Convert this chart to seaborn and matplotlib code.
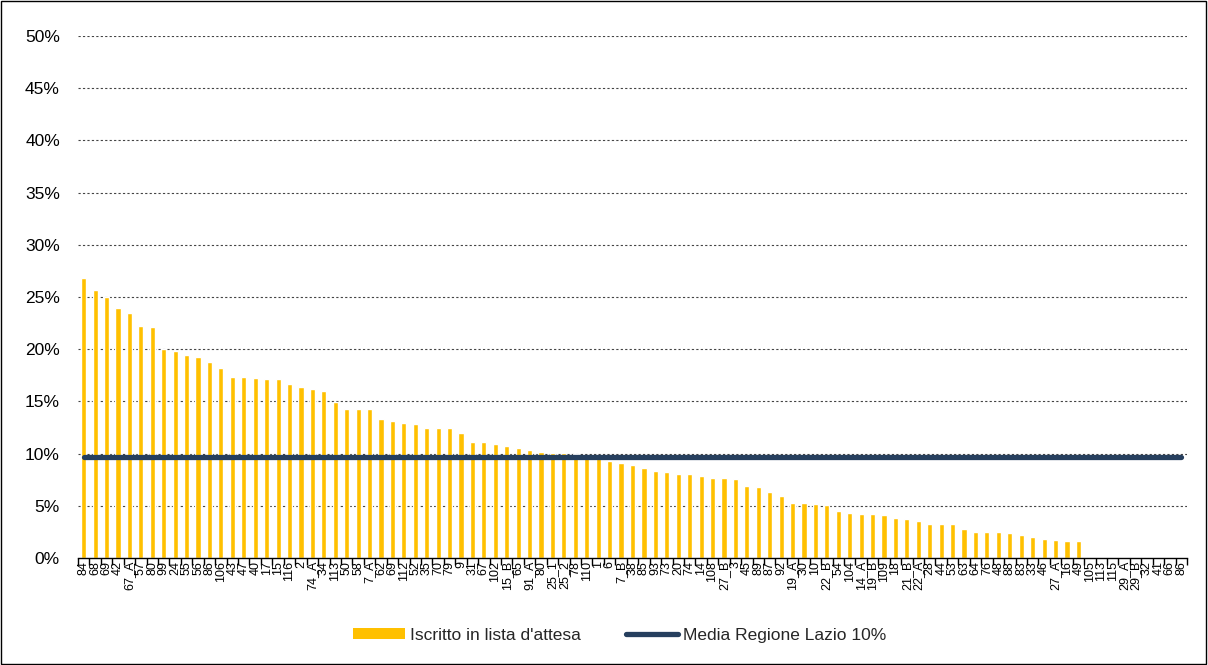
import matplotlib
matplotlib.use("Agg")
import matplotlib.pyplot as plt
import matplotlib.ticker as mticker
from matplotlib.patches import Patch, Rectangle
from matplotlib.lines import Line2D
import seaborn as sns
import pandas as pd
import numpy as np

# ---------------- data ----------------
labels = ["84", "68", "69", "42", "67_A", "57", "80", "99", "24", "55",
          "56", "86", "106", "43", "47", "40", "17", "15", "116", "2",
          "74_A", "34", "113", "50", "58", "7_A", "62", "69", "112", "52",
          "35", "70", "79", "9", "31", "67", "102", "15_B", "65", "91_A",
          "80", "25_1", "25_2", "78", "110", "1", "6", "7_B", "38", "85",
          "93", "73", "20", "74", "14", "108", "27_B", "3", "45", "89",
          "87", "92", "19_A", "30", "10", "22_B", "54", "104", "14_A", "19_B",
          "109", "18", "21_B", "22_A", "28", "44", "53", "63", "64", "76",
          "48", "88", "83", "33", "46", "27_A", "16", "49", "105", "113",
          "115", "29_A", "29_B", "32", "41", "66", "86"]

iscritto_pct = [26.8, 25.7, 25.0, 23.9, 23.5, 22.2, 22.1, 20.0, 19.8, 19.4,
                19.3, 18.8, 18.2, 17.3, 17.3, 17.2, 17.1, 17.1, 16.7, 16.4,
                16.2, 16.0, 14.9, 14.3, 14.3, 14.3, 13.3, 13.1, 12.9, 12.8,
                12.5, 12.5, 12.5, 12.0, 11.1, 11.1, 10.9, 10.7, 10.5, 10.3,
                10.2, 10.1, 10.1, 10.0, 9.8, 9.6, 9.3, 9.1, 8.9, 8.6,
                8.3, 8.2, 8.0, 8.0, 7.9, 7.7, 7.7, 7.6, 6.9, 6.8,
                6.3, 5.9, 5.3, 5.3, 5.2, 5.1, 4.5, 4.3, 4.2, 4.2,
                4.1, 3.8, 3.7, 3.5, 3.3, 3.3, 3.3, 2.8, 2.5, 2.5,
                2.5, 2.4, 2.2, 2.0, 1.8, 1.7, 1.6, 1.6, 0.0, 0.0,
                0.0, 0.0, 0.0, 0.0, 0.0, 0.0, 0.0]

media_lazio_pct = 9.7
legend_labels = ["Iscritto in lista d'attesa", "Media Regione Lazio 10%"]
y_ticks_pct = [0, 5, 10, 15, 20, 25, 30, 35, 40, 45, 50]

# ---------------- style ----------------
sns.set_theme(style="white")
plt.rcParams["font.family"] = ["Liberation Sans", "DejaVu Sans"]

BAR = "#FFC000"
LINE = "#263F5E"

df = pd.DataFrame({
    "pos": np.arange(len(labels)),
    "label": labels,
    "value": np.array(iscritto_pct) / 100.0,
    "media": media_lazio_pct / 100.0,
})

fig = plt.figure(figsize=(12.08, 6.65), dpi=100)
ax = fig.add_axes([78 / 1208, 1 - 558 / 665, (1187 - 78) / 1208, (558 - 36) / 665])

sns.barplot(data=df, x="pos", y="value", color=BAR, width=0.45,
            saturation=1, ax=ax, zorder=2)
sns.lineplot(data=df, x="pos", y="media", color=LINE, linewidth=3.8,
             ax=ax, zorder=3, legend=False)

ax.set_xlim(-0.5, len(labels) - 0.5)
ax.set_ylim(0, 0.5)
ax.set_xlabel("")
ax.set_ylabel("")

# y axis
ax.yaxis.set_major_locator(mticker.FixedLocator([v / 100 for v in y_ticks_pct]))
ax.yaxis.set_major_formatter(mticker.FuncFormatter(lambda v, p: f"{v*100:.0f}%"))
ax.tick_params(axis="y", length=0, pad=13, labelsize=12.5, colors="black")
for yv in y_ticks_pct[1:]:
    ax.axhline(yv / 100, color="#444444", lw=0.8, ls=(0, (2, 2)), zorder=1)

# x axis
ax.set_xticks(df["pos"])
ax.set_xticklabels(labels, rotation=90, fontsize=9)
ax.tick_params(axis="x", which="major", length=0, pad=2, colors="black")
ax.set_xticks(np.arange(-0.5, len(labels)), minor=True)
ax.tick_params(axis="x", which="minor", length=5, width=1, color="black",
               direction="out", bottom=True)

for s in ["top", "right", "left"]:
    ax.spines[s].set_visible(False)
ax.spines["bottom"].set_color("black")
ax.spines["bottom"].set_linewidth(1.0)
ax.grid(False)

handles = [Patch(facecolor=BAR, edgecolor="none"),
           Line2D([0], [0], color=LINE, lw=3.8)]
fig.legend(handles, legend_labels, loc="center", bbox_to_anchor=(0.513, 0.045),
           ncol=2, frameon=False, fontsize=12.5, handlelength=3.0,
           handleheight=0.6, handletextpad=0.3, columnspacing=2.6)

fig.patches.append(Rectangle((0.001, 0.002), 0.997, 0.996, transform=fig.transFigure,
                             fill=False, edgecolor="black", lw=1.0))

fig.savefig("out.png", dpi=100)
